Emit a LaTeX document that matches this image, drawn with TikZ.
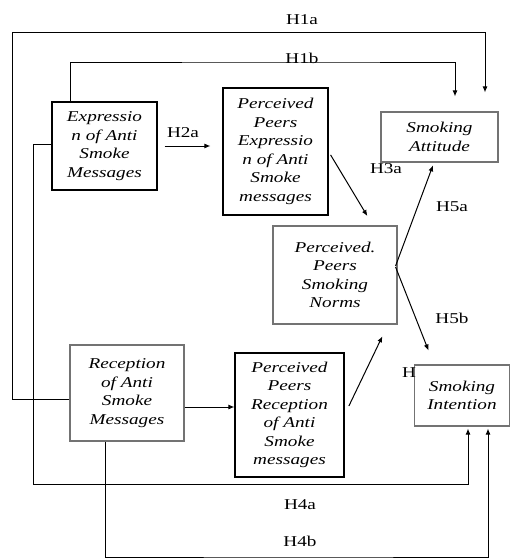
\documentclass[tikz,border=0pt]{standalone}
\usepackage{fontspec}
\setmainfont{Liberation Serif}[FakeStretch=1.28]
\usetikzlibrary{arrows.meta}
\tikzset{
  varbox/.style={draw=black, line width=1.1pt, inner sep=0pt, align=center,
    font=\itshape\fontsize{15}{18.5}\selectfont},
  softbox/.style={varbox, draw=black!55},
  hlabel/.style={inner sep=0pt, font=\fontsize{15}{18}\selectfont},
  link/.style={line width=1pt, -{Latex[length=6pt,width=5pt]}}
}
\begin{document}
\begin{tikzpicture}[x=1pt,y=-1pt]
  \useasboundingbox (0,0) rectangle (511,559);
  % constructs
  \node[varbox, minimum width=105pt, minimum height=88pt] (expr) at (104.5,146) {Expressio\\n of Anti\\Smoke\\Messages};
  \node[varbox, minimum width=105pt, minimum height=127pt] (ppexpr) at (275.5,151.5) {Perceived\\Peers\\Expressio\\n of Anti\\Smoke\\messages};
  \node[softbox, minimum width=117pt, minimum height=50pt] (att) at (439.5,137) {Smoking\\Attitude};
  \node[softbox, minimum width=124pt, minimum height=98pt] (norms) at (335,275) {Perceived.\\Peers\\Smoking\\Norms};
  \node[softbox, minimum width=114pt, minimum height=96pt] (recep) at (127,393) {Reception\\of Anti\\Smoke\\Messages};
  \node[varbox, minimum width=109pt, minimum height=124pt] (pprecep) at (289.5,415) {Perceived\\Peers\\Reception\\of Anti\\Smoke\\messages};
  \node[softbox, minimum width=95pt, minimum height=61pt] (intent) at (462,395.5) {Smoking\\Intention};

  % bends of the long paths
  \coordinate (h1aturn) at (12,33);
  \coordinate (h1bturn) at (300,63);
  \coordinate (h4aturn) at (33,484);
  \coordinate (h4bturn) at (300,557);

  % direct paths
  \draw[link, shorten <=7pt, shorten >=12pt] (expr.east) -- (ppexpr.west |- expr.east);
  \draw[link, shorten <=4pt, shorten >=11pt] (ppexpr.east) -- ([xshift=38pt]norms.north);
  \draw[link] ([yshift=-14pt]recep.east) -- ([yshift=-14pt]recep.east -| pprecep.west);
  \draw[link, shorten <=10pt, shorten >=13pt] (pprecep.east) -- ([xshift=53pt]norms.south);
  \draw[link, shorten >=3pt] ([xshift=-2pt,yshift=9pt]norms.east) -- ([xshift=-5.5pt]att.south);
  \draw[link, shorten >=15pt] ([xshift=-2pt,yshift=8pt]norms.east) -- ([xshift=-28pt]intent.north);

  % long paths
  \draw[link, shorten >=19pt] ([yshift=-6pt]recep.west) -| (h1aturn) -| ([xshift=45.5pt]att.north);
  \draw[link, shorten >=15pt] ([xshift=-34.5pt]expr.north) |- (h1bturn) -| ([xshift=15.5pt]att.north);
  \draw[link, shorten >=2pt] ([yshift=2pt]expr.west) -| (h4aturn) -| ([xshift=6pt]intent.south);
  \draw[link, shorten >=2pt] ([xshift=-22pt]recep.south) |- (h4bturn) -| ([xshift=26pt]intent.south);

  % hypothesis labels
  \node[hlabel] (h1a) at (302,20) {H1a};
  \node[hlabel] (h1b) at (302,58) {H1b};
  \node[hlabel] (h2a) at (183,133) {H2a};
  \node[hlabel] (h3a) at (386,169) {H3a};
  \node[hlabel] (h5a) at (452,207) {H5a};
  \node[hlabel] (h5b) at (452,318) {H5b};
  \node[hlabel] (h3b) at (409,373) {H};
  \node[hlabel] (h4a) at (300,505) {H4a};
  \node[hlabel] (h4b) at (300,541) {H4b};
\end{tikzpicture}
\end{document}
